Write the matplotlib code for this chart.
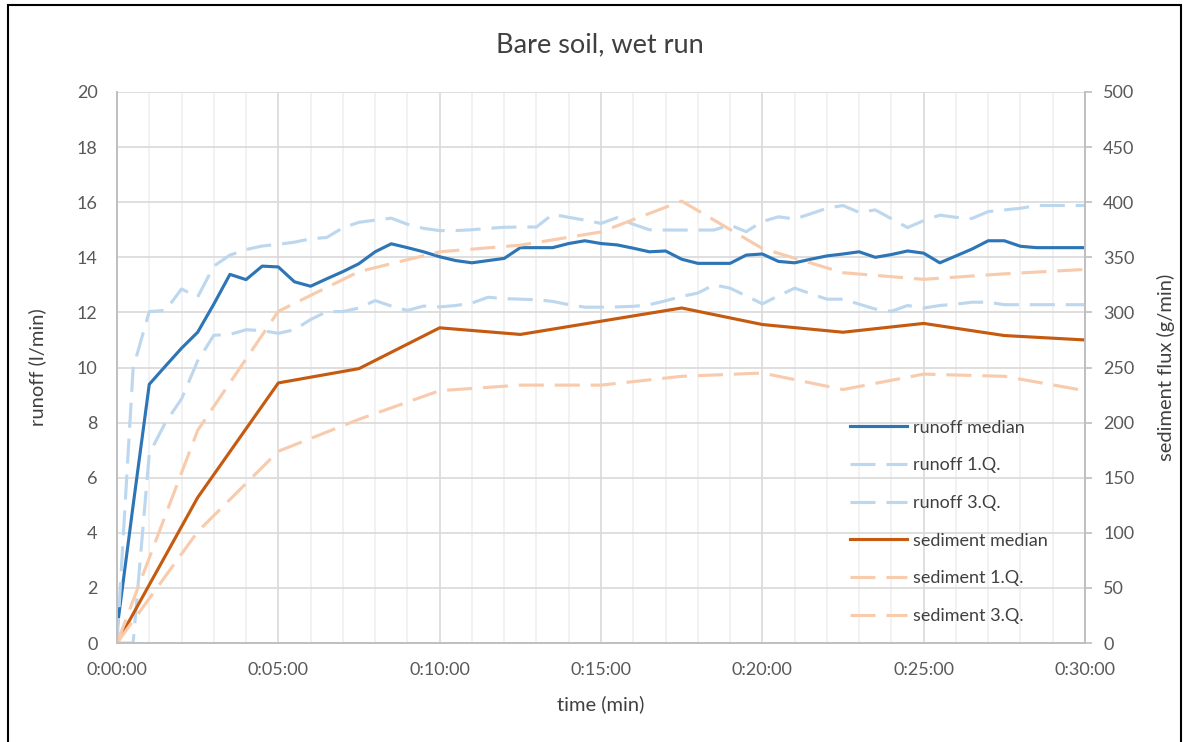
import matplotlib
matplotlib.use("Agg")
import matplotlib.pyplot as plt
from matplotlib.ticker import MultipleLocator, FuncFormatter
from matplotlib.patches import Rectangle

plt.rcParams['font.family'] = ['Lato', 'DejaVu Sans']

# runoff, sampled every 30 s (minutes)
t_runoff = [i * 0.5 for i in range(61)]
runoff_median = [0.5, 5.0, 9.39, 10.05, 10.7, 11.28, 12.3, 13.38, 13.19, 13.68,
                 13.65, 13.11, 12.95, 13.22, 13.48, 13.77, 14.2, 14.49, 14.35, 14.2,
                 14.02, 13.88, 13.8, 13.88, 13.96, 14.35, 14.35, 14.35, 14.5, 14.6,
                 14.5, 14.45, 14.33, 14.2, 14.23, 13.93, 13.78, 13.78, 13.78, 14.08,
                 14.12, 13.85, 13.8, 13.93, 14.05, 14.12, 14.2, 14.0, 14.1, 14.23,
                 14.15, 13.8, 14.05, 14.3, 14.6, 14.6, 14.4, 14.35, 14.35, 14.35,
                 14.35]
runoff_q1 = [0, 0, 6.87, 8.0, 8.86, 10.24, 11.17, 11.2, 11.37, 11.34,
             11.24, 11.37, 11.74, 12.03, 12.03, 12.16, 12.43, 12.23, 12.07, 12.23,
             12.2, 12.25, 12.34, 12.55, 12.5, 12.48, 12.46, 12.4, 12.28, 12.19,
             12.19, 12.2, 12.22, 12.28, 12.42, 12.58, 12.7, 13.0, 12.88, 12.6,
             12.31, 12.6, 12.88, 12.68, 12.48, 12.48, 12.3, 12.12, 12.04, 12.25,
             12.16, 12.25, 12.3, 12.37, 12.37, 12.28, 12.28, 12.28, 12.28, 12.28,
             12.28]
runoff_q3 = [0, 9.98, 12.03, 12.07, 12.85, 12.56, 13.68, 14.08, 14.28, 14.41,
             14.47, 14.55, 14.67, 14.72, 15.07, 15.27, 15.35, 15.42, 15.2, 15.05,
             14.97, 14.97, 15.0, 15.05, 15.09, 15.1, 15.1, 15.56, 15.45, 15.35,
             15.23, 15.44, 15.2, 15.0, 14.99, 14.99, 14.99, 14.99, 15.17, 14.93,
             15.3, 15.47, 15.39, 15.58, 15.78, 15.88, 15.63, 15.72, 15.4, 15.08,
             15.33, 15.53, 15.45, 15.41, 15.66, 15.72, 15.78, 15.88, 15.88, 15.88,
             15.88]

# sediment, sampled every 2.5 min
t_sed = [0, 2.5, 5, 7.5, 10, 12.5, 15, 17.5, 20, 22.5, 25, 27.5, 30]
sed_median = [0, 132, 236, 249, 286, 280, 292, 304, 289, 282, 290, 279, 275]
sed_q1 = [0, 101, 174, 203, 229, 234, 234, 242, 245, 230, 244, 242, 229]
sed_q3 = [0, 193, 301, 337, 355, 361, 373, 401, 358, 336, 330, 335, 339]

blue = '#2e75b6'
light_blue = '#bdd7ee'
orange = '#c55a11'
light_orange = '#f8cbad'
txt = '#595959'
dash = (0, (8, 3.5))

fig = plt.figure(figsize=(11.88, 7.42), dpi=100)
ax = fig.add_axes([117 / 1188, 1 - 643 / 742, 968 / 1188, 551 / 742])
ax2 = ax.twinx()

l1, = ax.plot(t_runoff, runoff_median, color=blue, lw=2.25, label='runoff median')
l2, = ax.plot(t_runoff, runoff_q1, color=light_blue, lw=2.25, ls=dash, label='runoff 1.Q.')
l3, = ax.plot(t_runoff, runoff_q3, color=light_blue, lw=2.25, ls=dash, label='runoff 3.Q.')
l4, = ax2.plot(t_sed, sed_median, color=orange, lw=2.25, label='sediment median')
l5, = ax2.plot(t_sed, sed_q1, color=light_orange, lw=2.25, ls=dash, label='sediment 1.Q.')
l6, = ax2.plot(t_sed, sed_q3, color=light_orange, lw=2.25, ls=dash, label='sediment 3.Q.')

ax.set_xlim(0, 30)
ax.set_ylim(0, 20)
ax2.set_ylim(0, 500)
ax.xaxis.set_major_locator(MultipleLocator(5))
ax.xaxis.set_minor_locator(MultipleLocator(1))
ax.yaxis.set_major_locator(MultipleLocator(2))
ax2.yaxis.set_major_locator(MultipleLocator(50))
ax.xaxis.set_major_formatter(FuncFormatter(lambda v, p: f"0:{int(round(v)):02d}:00"))

ax.grid(which='major', color='#d9d9d9', lw=1.2)
ax.grid(which='minor', axis='x', color='#f0f0f0', lw=1.2)
ax.set_axisbelow(True)

for a in (ax, ax2):
    for s in a.spines.values():
        s.set_color('#bfbfbf')
        s.set_linewidth(1.2)
    a.spines['top'].set_visible(False)
ax.tick_params(axis='x', which='both', length=0, labelsize=13, labelcolor=txt, pad=14)
ax.tick_params(axis='y', length=0, labelsize=13, labelcolor=txt, pad=14)
ax2.tick_params(axis='y', length=5, color='#bfbfbf', width=1.2, labelsize=13,
                labelcolor=txt, pad=8)

ax.set_xlabel('time (min)', fontsize=14.5, color='#404040', labelpad=12)
ax.set_ylabel('runoff (l/min)', fontsize=14.5, color='#404040', labelpad=22)
ax2.set_ylabel('sediment flux (g/min)', fontsize=14.5, color='#404040', labelpad=16)
fig.text(0.505, 1 - 45 / 742, 'Bare soil, wet run', ha='center', va='center',
         fontsize=19.5, color='#404040')

ax2.legend(handles=[l1, l2, l3, l4, l5, l6], loc='upper left',
           bbox_to_anchor=(0.74, 0.435), frameon=False, fontsize=13,
           handlelength=3.2, labelspacing=1.2, handletextpad=0.3,
           labelcolor='#404040')

fig.patches.append(Rectangle((8 / 1188, -0.05), 1173 / 1188, 1.05 - 5 / 742,
                             transform=fig.transFigure, fill=False,
                             edgecolor='black', lw=1.5))

fig.savefig('out.png', dpi=100)
